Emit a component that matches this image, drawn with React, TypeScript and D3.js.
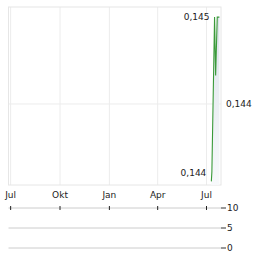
import React from "react";
import * as d3 from "d3";

const dates = ["2025-07-10", "2025-07-11", "2025-07-16", "2025-07-18", "2025-07-21", "2025-07-25"];
const prices = [0.14351, 0.14357, 0.14455, 0.14418, 0.14455, 0.14455];
const monthTicks = ["2024-07-01", "2024-10-01", "2025-01-01", "2025-04-01", "2025-07-01"];
const monthLabels = ["Jul", "Okt", "Jan", "Apr", "Jul"];
const priceTicks = [0.144];
const volumeTicks = [10, 5, 0];

const W = 264, H = 255;
const left = 8.5, right = 221, top = 7, bottom = 185;
const volTop = 208, volBottom = 248;
const font = "DejaVu Sans, Verdana, sans-serif";

export default function App() {
  const parse = d3.timeParse("%Y-%m-%d");
  const x = d3.scaleTime()
    .domain([parse("2024-06-27")!, parse("2025-07-28")!])
    .range([left, right]);
  const y = d3.scaleLinear().domain([0.143487, 0.144614]).range([bottom, top]);
  const yv = d3.scaleLinear().domain([0, 10]).range([volBottom, volTop]);

  const pts = dates.map((d, i) => ({ t: parse(d)!, v: prices[i] }));
  const line = d3.line<any>().x(d => x(d.t)).y(d => y(d.v));
  const area = d3.area<any>().x(d => x(d.t)).y0(bottom).y1(d => y(d.v));
  const fmt = (v: number) => d3.format(".3f")(v).replace(".", ",");

  const maxI = d3.maxIndex(prices);
  const minI = d3.minIndex(prices);

  return (
    <svg width={W} height={H} style={{ position: "absolute", left: 0, top: 0 }}>
      <defs>
        <linearGradient id="ag" x1="0" y1="0" x2="0" y2="1">
          <stop offset="0" stopColor="#dce3ea" />
          <stop offset="1" stopColor="#f7f9fb" />
        </linearGradient>
      </defs>
      <rect x={0} y={0} width={W} height={H} fill="#fff" />
      {monthTicks.map((m, i) => (
        <line key={i} x1={x(parse(m)!)} x2={x(parse(m)!)} y1={top} y2={bottom} stroke="#ececec" strokeWidth={1} />
      ))}
      {priceTicks.map((p, i) => (
        <line key={i} x1={left} x2={right} y1={y(p)} y2={y(p)} stroke="#ececec" strokeWidth={1} />
      ))}
      <rect x={left} y={top} width={right - left} height={bottom - top} fill="none" stroke="#e6e6e6" strokeWidth={1} />
      <path d={area(pts) || ""} fill="url(#ag)" />
      <path d={line(pts) || ""} fill="none" stroke="#3a9a3a" strokeWidth={1.1} />
      <text x={x(pts[maxI].t) - 5} y={y(prices[maxI]) + 3} textAnchor="end" fontFamily={font} fontSize={9} fill="#222">{fmt(prices[maxI])}</text>
      <text x={x(pts[minI].t) - 5} y={y(prices[minI]) - 5} textAnchor="end" fontFamily={font} fontSize={9} fill="#222">{fmt(prices[minI])}</text>
      {priceTicks.map((p, i) => (
        <text key={i} x={226} y={y(p) + 3} fontFamily={font} fontSize={9} fill="#222">{fmt(p)}</text>
      ))}
      {monthTicks.map((m, i) => (
        <text key={i} x={x(parse(m)!)} y={198} textAnchor="middle" fontFamily={font} fontSize={9} fill="#222">{monthLabels[i]}</text>
      ))}
      {volumeTicks.map((v, i) => (
        <g key={i}>
          <line x1={left} x2={right} y1={yv(v)} y2={yv(v)} stroke="#cccccc" strokeWidth={1} />
          <line x1={right} x2={226} y1={yv(v)} y2={yv(v)} stroke="#333" strokeWidth={1} />
          <text x={227} y={yv(v) + 3} fontFamily={font} fontSize={9} fill="#222">{v}</text>
        </g>
      ))}
      {monthTicks.map((m, i) => (
        <line key={i} x1={x(parse(m)!)} x2={x(parse(m)!)} y1={volTop - 2} y2={volTop + 2} stroke="#222" strokeWidth={1} />
      ))}
    </svg>
  );
}
